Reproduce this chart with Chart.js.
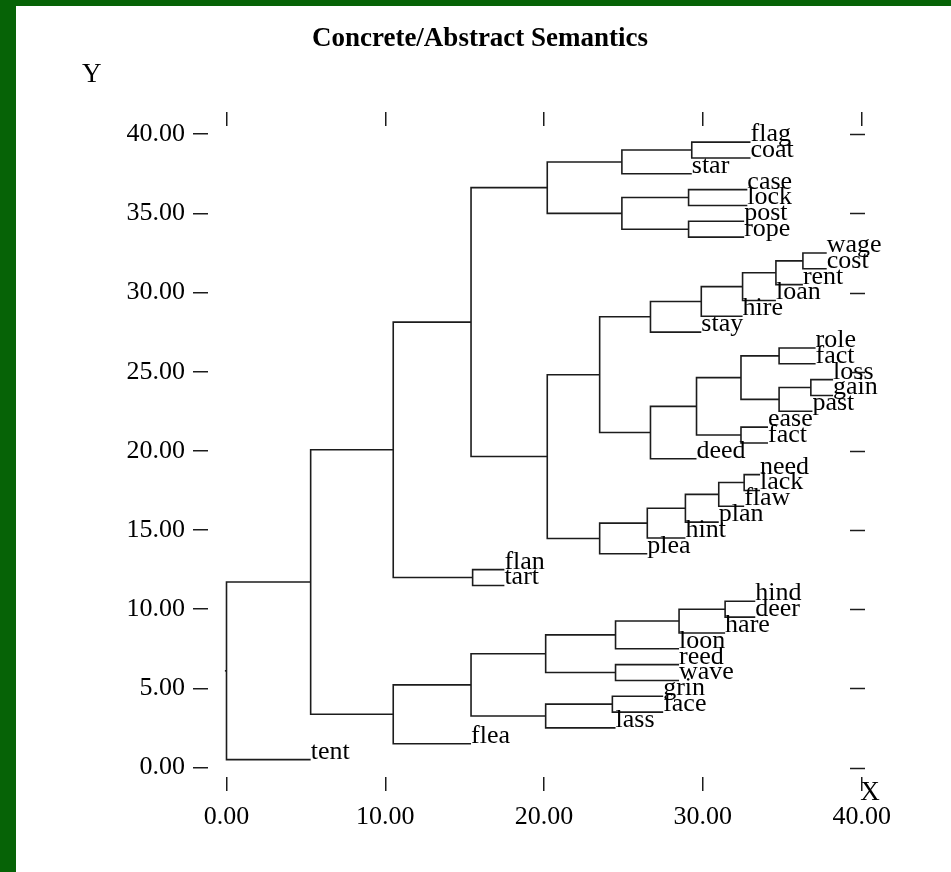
<!DOCTYPE html>
<html>
<head>
<meta charset="utf-8">
<title>Concrete/Abstract Semantics</title>
<script src="https://cdn.jsdelivr.net/npm/chart.js@4/dist/chart.umd.min.js"></script>
<style>
  html, body { margin: 0; padding: 0; background: #066306; }
  #panel { position: absolute; left: 16px; top: 6px; width: 935px; height: 866px; background: #fff; }
  canvas { display: block; }
</style>
</head>
<body>
<div id="panel"><canvas id="tree" width="935" height="866"></canvas></div>
<script>
// ---- data ----
const TITLE = 'Concrete/Abstract Semantics';

const LEAF_NAMES = [
  'flag', 'coat', 'star', 'case', 'lock', 'post', 'rope', 'wage', 'cost', 'rent',
  'loan', 'hire', 'stay', 'role', 'fact', 'loss', 'gain', 'past', 'ease', 'fact',
  'deed', 'need', 'lack', 'flaw', 'plan', 'hint', 'plea', 'flan', 'tart', 'hind',
  'deer', 'hare', 'loon', 'reed', 'wave', 'grin', 'face', 'lass', 'flea', 'tent'
];
const LEAF_Y = [
  39.5, 38.5, 37.5, 36.5, 35.5, 34.5, 33.5, 32.5, 31.5, 30.5,
  29.5, 28.5, 27.5, 26.5, 25.5, 24.5, 23.5, 22.5, 21.5, 20.5,
  19.5, 18.5, 17.5, 16.5, 15.5, 14.5, 13.5, 12.5, 11.5, 10.5,
  9.5, 8.5, 7.5, 6.5, 5.5, 4.5, 3.5, 2.5, 1.5, 0.5
];
// where each leaf's branch ends (label starts)
const LEAF_END = [
  33.0, 33.0, 29.3, 32.8, 32.8, 32.6, 32.6, 37.8, 37.8, 36.3,
  34.6, 32.5, 29.9, 37.1, 37.1, 38.2, 38.2, 36.9, 34.1, 34.1,
  29.6, 33.6, 33.6, 32.6, 31.0, 28.9, 26.5, 17.5, 17.5, 33.3,
  33.3, 31.4, 28.5, 28.5, 28.5, 27.5, 27.5, 24.5, 15.4, 5.3
];
// merges, linkage style: ids 0..39 are leaves, 40+i is merge i
const MERGE_A = [0, 40, 3, 5, 42, 41, 7, 46, 47, 48, 49, 13, 15, 52, 51, 18, 54, 56, 50, 21,
  59, 60, 61, 62, 58, 45, 27, 65, 29, 68, 69, 33, 70, 35, 73, 72, 75, 67, 77];
const MERGE_B = [1, 2, 4, 6, 43, 44, 8, 9, 10, 11, 12, 14, 16, 17, 53, 19, 55, 20, 57, 22,
  23, 24, 25, 26, 63, 64, 28, 66, 30, 31, 32, 34, 71, 36, 37, 74, 38, 76, 39];
const MERGE_H = [29.3, 24.9, 29.1, 29.1, 24.9, 20.2, 36.3, 34.6, 32.5, 29.9, 26.7, 34.8, 36.8, 34.8, 32.4, 32.4, 29.6, 26.7, 23.5, 32.6,
  31.0, 28.9, 26.5, 23.5, 20.2, 15.4, 15.5, 10.5, 31.4, 28.5, 24.5, 24.5, 20.1, 24.3, 20.1, 15.4, 10.5, 5.3, 0.0];

const X_TICKS = [0, 10, 20, 30, 40];
const Y_TICKS = [0, 5, 10, 15, 20, 25, 30, 35, 40];
const X_MIN = -1.165, X_MAX = 40.21;
const Y_MIN = -0.60, Y_MAX = 40.52;

const SERIF = "'Liberation Serif', 'Times New Roman', serif";
const INK = '#1c1c1c';

// ---- build the branch polylines ----
const nodeX = LEAF_END.slice();
const nodeY = LEAF_Y.slice();
const branchSets = [];

MERGE_H.forEach((h, i) => {
  const a = MERGE_A[i], b = MERGE_B[i];
  nodeX.push(h);
  nodeY.push((nodeY[a] + nodeY[b]) / 2);
  branchSets.push({
    data: [
      { x: nodeX[a], y: nodeY[a] },
      { x: h, y: nodeY[a] },
      { x: h, y: nodeY[b] },
      { x: nodeX[b], y: nodeY[b] }
    ]
  });
});

// little stub on the root
const rootId = nodeX.length - 1;
branchSets.push({
  data: [{ x: nodeX[rootId] - 0.1, y: nodeY[rootId] }, { x: nodeX[rootId], y: nodeY[rootId] }]
});

branchSets.forEach(ds => {
  ds.showLine = true;
  ds.borderColor = INK;
  ds.borderWidth = 1.6;
  ds.pointRadius = 0;
  ds.fill = false;
  ds.tension = 0;
  ds.xAxisID = 'x';
  ds.yAxisID = 'y';
});

// leaf names, the axis letters and the right-hand dashes
const treeText = {
  id: 'treeText',
  afterDatasetsDraw(chart) {
    const { ctx, chartArea } = chart;
    const xs = chart.scales.x, ys = chart.scales.y;
    ctx.save();
    ctx.fillStyle = '#000';
    ctx.font = `26px ${SERIF}`;
    ctx.textAlign = 'left';
    ctx.textBaseline = 'alphabetic';
    LEAF_NAMES.forEach((name, i) => {
      ctx.fillText(name, xs.getPixelForValue(LEAF_END[i]), ys.getPixelForValue(LEAF_Y[i]) - 1);
    });

    ctx.strokeStyle = INK;
    ctx.lineWidth = 1.5;
    Y_TICKS.forEach(v => {
      const py = Math.round(ys.getPixelForValue(v)) + 0.5;
      ctx.beginPath();
      ctx.moveTo(chartArea.right - 15, py);
      ctx.lineTo(chartArea.right, py);
      ctx.stroke();
    });

    ctx.font = `27px ${SERIF}`;
    ctx.textAlign = 'center';
    ctx.fillText('Y', 75.7, 75.7);
    ctx.fillText('X', 854, 794);
    ctx.restore();
  }
};

const tickStyle = { color: INK, lineWidth: 1.5, drawOnChartArea: false, drawTicks: true };
const tickFont = { family: SERIF, size: 26 };

new Chart(document.getElementById('tree'), {
  type: 'scatter',
  data: { datasets: branchSets },
  options: {
    responsive: false,
    animation: false,
    devicePixelRatio: 1,
    layout: { padding: { left: 79, right: 86, top: 0, bottom: 0 } },
    plugins: {
      legend: { display: false },
      tooltip: { enabled: false },
      title: {
        display: true,
        text: TITLE,
        color: '#000',
        font: { family: SERIF, size: 27, weight: 'bold', lineHeight: 1.2 },
        padding: { top: 17, bottom: 0 }
      }
    },
    scales: {
      x: {
        type: 'linear',
        position: 'bottom',
        min: X_MIN,
        max: X_MAX,
        afterBuildTicks: s => { s.ticks = X_TICKS.map(v => ({ value: v })); },
        afterFit: s => { s.height = 95; },
        border: { display: false },
        grid: { ...tickStyle, tickLength: 14 },
        ticks: {
          color: '#000', font: tickFont, padding: 11, autoSkip: false, maxRotation: 0,
          callback: v => Number(v).toFixed(2)
        }
      },
      xTop: {
        axis: 'x',
        type: 'linear',
        position: 'top',
        min: X_MIN,
        max: X_MAX,
        afterBuildTicks: s => { s.ticks = X_TICKS.map(v => ({ value: v })); },
        afterFit: s => { s.height = 70.6; },
        border: { display: false },
        grid: { ...tickStyle, tickLength: 14 },
        ticks: { display: false }
      },
      y: {
        type: 'linear',
        position: 'left',
        min: Y_MIN,
        max: Y_MAX,
        afterBuildTicks: s => { s.ticks = Y_TICKS.map(v => ({ value: v })); },
        afterFit: s => { s.width = 113; },
        border: { display: false },
        grid: { ...tickStyle, tickLength: 15 },
        ticks: {
          color: '#000', font: tickFont, padding: 8, autoSkip: false,
          callback: v => Number(v).toFixed(2)
        }
      }
    }
  },
  plugins: [treeText]
});
</script>
</body>
</html>
